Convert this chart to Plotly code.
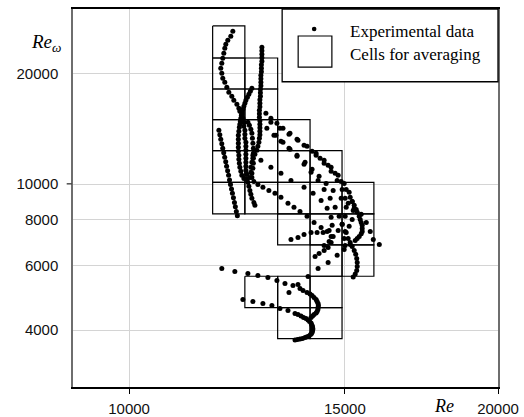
import plotly.graph_objects as go

# ---- axis ticks ----
x_tickvals = [10000, 15000, 20000]
y_tickvals = [4000, 6000, 8000, 10000, 20000]

# ---- averaging cells (boundaries in Re and Re_omega) ----
cell_re_edges = [11700, 12430, 13220, 14050, 14920, 15840]
cell_rew_edges = [26970, 22060, 18160, 14980, 12330, 10110, 8300, 6830, 5610, 4610, 3795]
cells = [(0, 0),
         (0, 1), (1, 1),
         (0, 2), (1, 2),
         (0, 3), (1, 3), (2, 3),
         (0, 4), (1, 4), (2, 4), (3, 4),
         (0, 5), (1, 5), (2, 5), (3, 5), (4, 5),
         (2, 6), (3, 6), (4, 6),
         (3, 7), (4, 7),
         (1, 8), (2, 8), (3, 8),
         (2, 9), (3, 9)]

# ---- experimental trajectories (Re, Re_omega) ----
re_1 = [12152, 12106, 12038, 11993, 11970, 11948, 11925, 11903, 11880, 11903, 11925, 11970, 12016, 12061,
        12129, 12175, 12245, 12291, 12314, 12360, 12384, 12407, 12407, 12431, 12431, 12431, 12454, 12454,
        12454, 12454, 12454, 12454, 12454, 12454, 12477, 12477, 12501, 12524, 12548, 12571, 12595, 12643, 12667]
rew_1 = [26100, 25300, 24660, 24060, 23460, 22740, 22030, 21350, 20690, 20050, 19430, 18950, 18360, 17790,
         17360, 16920, 16510, 16100, 15790, 15500, 15110, 14740, 14370, 14010, 13670, 13330, 13000, 12680,
         12360, 12060, 11760, 11470, 11180, 10900, 10630, 10360, 10110, 9860, 9612, 9380, 9144, 8917, 8753]

re_2 = [12834] * 5 + [12822] * 3 + [12810] * 4 + [12798] * 3 + [12786] * 3 + [12774] * 3 + [12786] * 5 + [
    12774, 12762, 12738, 12714, 12667, 12619, 12595, 12571, 12571, 12595, 12643, 12738, 12859, 13004, 13153,
    13302, 13479, 13632, 13787, 13971, 14156, 14344, 14508, 14617, 14617, 14535, 14426, 14290, 14183]
rew_2 = [23610, 23090, 22600, 22100, 21620, 21150, 20690, 20230, 19800, 19370, 18950, 18540, 18130, 17740,
         17360, 16970, 16610, 16250, 15890, 15550, 15210, 14870, 14560, 14240, 13925, 13630, 13330,
         13000, 12680, 12360, 12060, 11760, 11470, 11110, 10770, 10430, 10170, 9980, 9800, 9612, 9436, 9202,
         8862, 8642, 8426, 8168, 7865, 7622, 7432, 7204, 6937, 6723, 6595, 6475, 6354]

re_3 = [11838, 11859, 11880, 11903, 11924, 11946, 11968, 11991, 12011, 12034, 12056, 12077, 12099, 12122,
        12143, 12166, 12189, 12210, 12233, 12256]
rew_3 = [14010, 13630, 13245, 12880, 12520, 12170, 11830, 11500, 11180, 10870, 10565, 10265, 9980, 9705,
         9436, 9175, 8917, 8670, 8426, 8194]

re_4 = [12595, 12559, 12524, 12489, 12454, 12431, 12407, 12384, 12360, 12349, 12337, 12326, 12314, 12302,
        12291, 12279, 12279, 12279, 12279, 12279, 12291, 12291, 12302, 12314, 12337, 12360, 12407, 12477,
        12548, 12595, 12619, 12631, 12631, 12631, 12631, 12619, 12607, 12595, 12571, 12536, 12501]
rew_4 = [18250, 17900, 17570, 17250, 16920, 16610, 16300, 15990, 15700, 15400, 15110, 14830, 14560, 14290,
         13925, 13585, 13245, 12920, 12600, 12285, 11985, 11685, 11400, 11110, 10833, 10565, 10365, 10297,
         10430, 10700, 11040, 11400, 11760, 12135, 12520, 12920, 13330, 13755, 14100, 14465, 14740]

re_5 = [12619, 12810, 13053, 13302, 13555, 13892, 14130, 14344, 14508, 14617, 14645, 14562, 14399, 14237,
        14076, 13892, 13735, 13555]
rew_5 = [11985, 11610, 11110, 10700, 10230, 9800, 9436, 9027, 8588, 8117, 7720, 7477, 7386, 7386, 7386,
         7295, 7158, 7068]

re_6 = [12931, 13053, 13202, 13353, 13530, 13710, 13892, 14103, 14317, 14535, 14728, 14895, 15037, 15150,
        15265, 15352, 15438, 15496, 15496, 15409, 15294, 15150, 14980, 14784, 14535, 14263, 13997, 13735, 13504]
rew_6 = [15600, 15110, 14650, 14190, 13755, 13245, 12760, 12285, 11760, 11255, 10700, 10170, 9674, 9202,
         8753, 8375, 8014, 7720, 7432, 7204, 7022, 6851, 6638, 6395, 6118, 5892, 5604, 5330, 5068]

re_7 = [12955, 13128, 13302, 13504, 13710, 13918, 14103, 14290, 14480, 14673, 14895, 15093, 15265, 15467,
        15615, 15732, 15822, 16002]
rew_7 = [14190, 13585, 13080, 12520, 11985, 11470, 10970, 10500, 10045, 9612, 9144, 8862, 8588, 8272,
         7865, 7432, 7068, 6851]

re_8 = [13177, 13353, 13530, 13710, 13892, 14076, 14263, 14426, 14590, 14728, 14839, 14923, 15008, 15093,
        15150, 15207, 15265, 15308, 15337, 15352, 15352, 15337, 15294, 15236]
rew_8 = [13585, 13000, 12440, 11910, 11325, 10770, 10230, 9674, 9144, 8642, 8168, 7768, 7432, 7113,
         6937, 6765, 6595, 6435, 6274, 6118, 5967, 5816, 5692, 5587]

re_9 = [11903, 12198, 12501, 12738, 12980, 13202, 13403, 13606, 13787, 13866, 13971, 14050, 14103, 14156,
        14210, 14237, 14263, 14271, 14263, 14258, 14237, 14210, 14156, 14116, 14076]
rew_9 = [5892, 5781, 5710, 5640, 5569, 5463, 5363, 5297, 5197, 5130, 5068, 5021, 4974, 4911,
         4849, 4789, 4730, 4671, 4612, 4553, 4497, 4455, 4414, 4373, 4332]

re_10 = [12384, 12619, 12859, 13078, 13277, 13479, 13658, 13735, 13813, 13879, 13944, 13997, 14037, 14076,
         14089, 14111, 14116, 14124, 14116, 14108, 14089, 14063, 14023, 13971, 13918, 13852, 13787, 13722, 13658]
rew_10 = [4849, 4789, 4730, 4671, 4583, 4524, 4441, 4414, 4373, 4332, 4304, 4263, 4223, 4184,
          4145, 4106, 4068, 4029, 3990, 3954, 3917, 3893, 3857, 3837, 3820, 3796, 3784, 3771, 3760]

re_11 = [13053, 13277, 13504, 13735, 13971, 14210, 14426, 14617, 14812, 14980, 15121, 15207, 15236, 15207,
         15121, 15037, 14980, 15008]
rew_11 = [14740, 14190, 13670, 13160, 12680, 12135, 11610, 11110, 10565, 10045, 9495, 8972, 8478, 8014,
          7671, 7386, 7113, 6808]

re_12 = [14210, 14426, 14617, 14784, 14923, 15008, 15037, 15008, 14923, 14812, 14673, 14562, 14426]
rew_12 = [11985, 11400, 10833, 10230, 9674, 9144, 8642, 8168, 7768, 7477, 7204, 6980, 6808]

re_13 = [15207, 15323, 15409, 15467, 15496, 15467, 15352]
rew_13 = [8972, 8533, 8168, 7865, 7574, 7318, 7113]

series_re = [re_1, re_2, re_3, re_4, re_5, re_6, re_7, re_8, re_9, re_10, re_11, re_12, re_13]
series_rew = [rew_1, rew_2, rew_3, rew_4, rew_5, rew_6, rew_7, rew_8, rew_9, rew_10, rew_11, rew_12, rew_13]

# ---- build figure ----
fig = go.Figure()

cx, cy = [], []
for c, r in cells:
    x0, x1 = cell_re_edges[c], cell_re_edges[c + 1]
    y0, y1 = cell_rew_edges[r], cell_rew_edges[r + 1]
    cx += [x0, x1, x1, x0, x0, None]
    cy += [y0, y0, y1, y1, y0, None]
fig.add_trace(go.Scatter(x=cx, y=cy, mode="lines", line=dict(color="black", width=1.2),
                         hoverinfo="skip", showlegend=False))

px_all, py_all = [], []
for xs, ys in zip(series_re, series_rew):
    px_all += xs
    py_all += ys
fig.add_trace(go.Scatter(x=px_all, y=py_all, mode="markers",
                         marker=dict(color="black", size=5, line=dict(width=0)),
                         showlegend=False))

W, H = 524, 417
L, R, T, B = 73, 26.3, 9, 30.3
pw, ph = W - L - R, H - T - B


def pxx(p):
    return (p - L) / pw


def pyy(p):
    return (H - B - p) / ph


tickfont = dict(family="Liberation Sans, Arial, sans-serif", size=15, color="#111")

fig.update_layout(
    width=W, height=H, autosize=False,
    margin=dict(l=L, r=R, t=T, b=B, pad=0),
    paper_bgcolor="white", plot_bgcolor="white",
    showlegend=False,
    xaxis=dict(type="log", range=[3.95424, 4.30103], tickvals=x_tickvals,
               ticktext=[str(v) for v in x_tickvals], tickfont=tickfont,
               showgrid=True, gridcolor="#d4d4d4", gridwidth=1.3,
               showline=True, linecolor="black", linewidth=1.5, mirror=True,
               ticks="outside", ticklen=5, tickwidth=1.3, tickcolor="black",
               zeroline=False, ticklabelstandoff=2, automargin=False),
    yaxis=dict(type="log", range=[3.44716, 4.47712], tickvals=y_tickvals,
               ticktext=[str(v) for v in y_tickvals], tickfont=tickfont,
               showgrid=True, gridcolor="#d4d4d4", gridwidth=1.3,
               showline=True, linecolor="#6e6e6e", linewidth=1.5, mirror=True,
               ticks="", zeroline=False, ticklabelstandoff=10, automargin=False),
)

shapes = []
# single tick mark at 10000 on the y axis
shapes.append(dict(type="line", xref="paper", yref="paper", x0=pxx(66.7), x1=pxx(71.7),
                   y0=pyy(183.7), y1=pyy(183.7), line=dict(color="#333", width=1.3)))
# legend box
shapes.append(dict(type="rect", xref="paper", yref="paper", x0=pxx(282), x1=1.0,
                   y0=pyy(81.7), y1=1.0, line=dict(color="black", width=1.3),
                   fillcolor="white", layer="above"))
# legend square
shapes.append(dict(type="rect", xref="paper", yref="paper", x0=pxx(298), x1=pxx(331.7),
                   y0=pyy(67), y1=pyy(36), line=dict(color="black", width=1.2),
                   fillcolor="white", layer="above"))
# legend dot
shapes.append(dict(type="circle", xref="paper", yref="paper", xsizemode="pixel", ysizemode="pixel",
                   xanchor=pxx(314), yanchor=pyy(29), x0=-2.3, x1=2.3, y0=-2.3, y1=2.3,
                   fillcolor="black", line=dict(width=0), layer="above"))
fig.update_layout(shapes=shapes)

serif = "Liberation Serif, Times New Roman, serif"
annotations = [
    dict(text="Experimental data", xref="paper", yref="paper", x=pxx(348), y=pyy(31),
         xanchor="left", yanchor="middle", showarrow=False,
         font=dict(family=serif, size=17, color="black")),
    dict(text="Cells for averaging", xref="paper", yref="paper", x=pxx(348), y=pyy(54),
         xanchor="left", yanchor="middle", showarrow=False,
         font=dict(family=serif, size=17, color="black")),
    dict(text="<i>Re</i><sub><i>ω</i></sub>", xref="paper", yref="paper", x=pxx(29), y=pyy(43),
         xanchor="left", yanchor="middle", showarrow=False,
         font=dict(family=serif, size=19, color="black")),
    dict(text="<i>Re</i>", xref="paper", yref="paper", x=pxx(444), y=pyy(405.5),
         xanchor="center", yanchor="middle", showarrow=False, borderpad=0,
         font=dict(family=serif, size=18, color="black")),
]
fig.update_layout(annotations=annotations)

fig.write_html("out.html")
